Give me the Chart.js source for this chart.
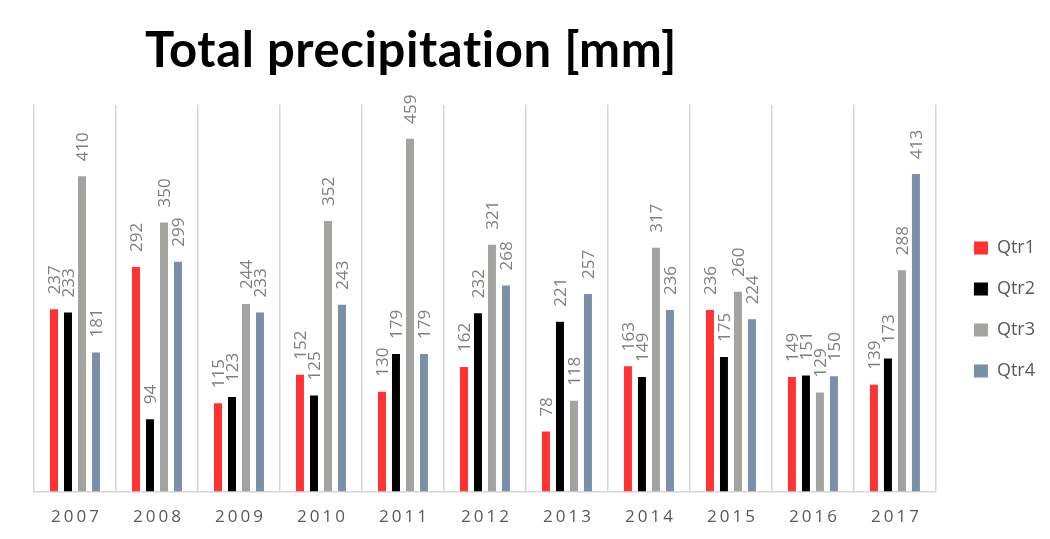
<!DOCTYPE html>
<html>
<head>
<meta charset="utf-8">
<style>
  html, body { margin: 0; padding: 0; background: #ffffff; }
  #wrap { width: 1050px; height: 539px; }
</style>
<script src="https://cdn.jsdelivr.net/npm/chart.js@4/dist/chart.umd.min.js"></script>
</head>
<body>
<div id="wrap"><canvas id="chart" width="1050" height="539"></canvas></div>
<script>
// Quarterly precipitation totals per year, in millimetres
const years = ['2007', '2008', '2009', '2010', '2011', '2012', '2013', '2014', '2015', '2016', '2017'];
const qtr1 = [237, 292, 115, 152, 130, 162, 78, 163, 236, 149, 139];
const qtr2 = [233, 94, 123, 125, 179, 232, 221, 149, 175, 151, 173];
const qtr3 = [410, 350, 244, 352, 459, 321, 118, 317, 260, 129, 288];
const qtr4 = [181, 299, 233, 243, 179, 268, 257, 236, 224, 150, 413];
const seriesNames = ['Qtr1', 'Qtr2', 'Qtr3', 'Qtr4'];

const colors = ['#FF3333', '#000000', '#A3A3A0', '#7990A8'];
const seriesValues = [qtr1, qtr2, qtr3, qtr4];

// Rotated value labels sitting just above each bar
const valueLabels = {
  id: 'valueLabels',
  afterDatasetsDraw(chart) {
    const ctx = chart.ctx;
    ctx.save();
    ctx.font = '17px "Open Sans", sans-serif';
    ctx.fillStyle = '#7F7F7F';
    ctx.textAlign = 'left';
    ctx.textBaseline = 'middle';
    chart.data.datasets.forEach((ds, di) => {
      const meta = chart.getDatasetMeta(di);
      meta.data.forEach((bar, i) => {
        ctx.save();
        ctx.translate(bar.x + 1, bar.y - 15);
        ctx.rotate(-Math.PI / 2);
        ctx.fillText(String(ds.data[i]), 0, 0);
        ctx.restore();
      });
    });
    ctx.restore();
  }
};

// Draws a layout box with a given letter spacing
function withSpacing(box, method, spacing, dx) {
  const base = box[method];
  box[method] = function (...args) {
    const c = this.ctx;
    c.save();
    c.letterSpacing = spacing;
    if (dx) c.translate(dx, 0);
    base.apply(this, args);
    c.restore();
  };
}

// Spaced-out year labels on the category axis, and placement of title and legend
const layoutTweaks = {
  id: 'layoutTweaks',
  afterLayout(chart) {
    const x = chart.scales.x;
    if (x && !x._spaced) {
      withSpacing(x, 'drawLabels', '3px', 1.5);
      x._spaced = true;
    }
    const t = chart.titleBlock;
    if (t) {
      if (!t._spaced) { withSpacing(t, 'draw', '0.6px', 0); t._spaced = true; }
      const dx = 145 - t.left;
      t.left += dx; t.right += dx;
    }
    const l = chart.legend;
    if (l) {
      const pad = l.options.labels.padding;
      const dx = (chart.chartArea.right + 38) - (l.left + pad);
      const dy = (619 - (l.top + l.bottom)) / 2;
      l.left += dx; l.right += dx;
      l.top += dy; l.bottom += dy;
    }
  }
};

new Chart(document.getElementById('chart'), {
  type: 'bar',
  data: {
    labels: years,
    datasets: seriesNames.map((name, i) => ({
      label: name,
      data: seriesValues[i],
      backgroundColor: colors[i],
      borderWidth: 0,
      categoryPercentage: 0.683,
      barPercentage: 0.57
    }))
  },
  options: {
    responsive: false,
    animation: false,
    layout: { padding: { left: 34, right: 20, top: 0, bottom: -3 } },
    plugins: {
      title: {
        display: true,
        text: 'Total precipitation [mm]',
        align: 'start',
        color: '#000000',
        font: { family: 'Lato, sans-serif', size: 49, weight: 'bold' },
        padding: { top: 22, bottom: 24 }
      },
      legend: {
        position: 'right',
        labels: {
          boxWidth: 14,
          boxHeight: 13,
          padding: 23,
          color: '#595959',
          font: { family: '"Open Sans", sans-serif', size: 18 }
        }
      },
      tooltip: { enabled: false }
    },
    scales: {
      x: {
        grid: {
          display: true,
          offset: true,
          drawTicks: false,
          color: '#D6D6D6',
          lineWidth: 1.5
        },
        border: { display: true, color: '#D6D6D6', width: 1.5 },
        ticks: {
          color: '#595959',
          padding: 15,
          font: { family: '"Open Sans", sans-serif', size: 17 }
        }
      },
      y: {
        display: false,
        min: 0,
        max: 503
      }
    }
  },
  plugins: [valueLabels, layoutTweaks]
});
</script>
</body>
</html>
